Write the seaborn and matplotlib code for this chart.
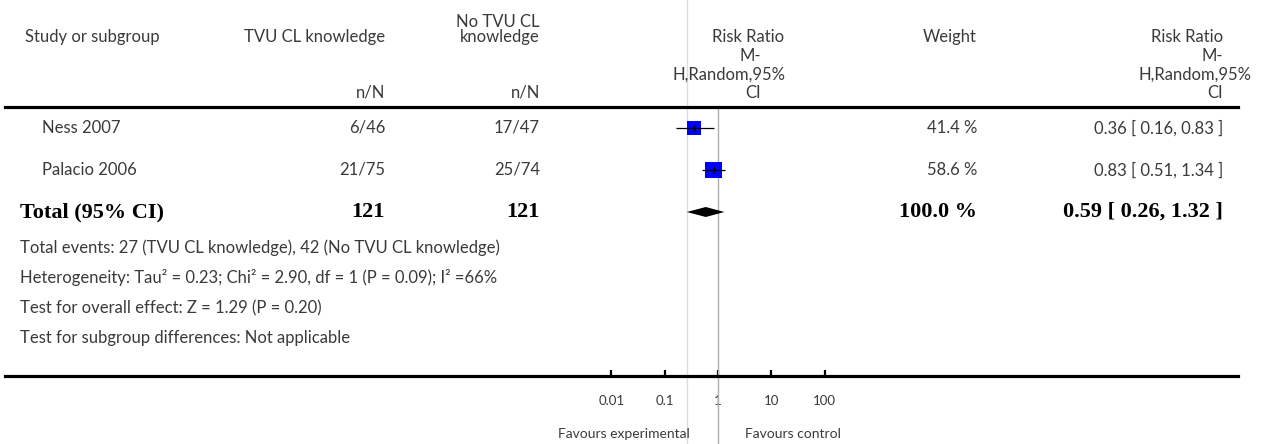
import numpy as np
import pandas as pd
import matplotlib
matplotlib.use("Agg")
import matplotlib.pyplot as plt
import matplotlib.transforms as mtransforms
import seaborn as sns

# ---------------- data ----------------
studies = ["Ness 2007", "Palacio 2006"]
exp_events = [6, 21]
exp_total = [46, 75]
ctl_events = [17, 25]
ctl_total = [47, 74]
rr = [0.36, 0.83]
rr_lo = [0.16, 0.51]
rr_hi = [0.83, 1.34]
weights = [41.4, 58.6]
pooled_rr = 0.59
pooled_lo = 0.26
pooled_hi = 1.32
total_exp = 121
total_ctl = 121
total_weight = 100.0
footer_lines = [
    "Total events: 27 (TVU CL knowledge), 42 (No TVU CL knowledge)",
    "Heterogeneity: Tau\u00b2 = 0.23; Chi\u00b2 = 2.90, df = 1 (P = 0.09); I\u00b2 =66%",
    "Test for overall effect: Z = 1.29 (P = 0.20)",
    "Test for subgroup differences: Not applicable",
]
tick_values = [0.01, 0.1, 1, 10, 100]
tick_labels = ["0.01", "0.1", "1", "10", "100"]
favours_left = "Favours experimental"
favours_right = "Favours control"

# ---------------- style ----------------
sns.set_theme(style="white")
plt.rcParams["font.family"] = ["Lato", "DejaVu Sans"]
REG = dict(family=["Lato", "DejaVu Sans"], fontweight="normal", color="#3a3a3a", fontsize=12)
BOLD = dict(family=["Liberation Serif", "DejaVu Serif"], fontweight="bold", color="black", fontsize=16)

W, H = 1264, 444
fig = plt.figure(figsize=(W / 100, H / 100), dpi=100)
fig.patch.set_facecolor("white")

AX_L, AX_R, AX_T, AX_B = 5, 1238, 107, 376
ax = fig.add_axes([AX_L / W, 1 - AX_B / H, (AX_R - AX_L) / W, (AX_B - AX_T) / H])
ax.set_facecolor("none")

X_ONE, PPD = 718.0, 53.33
ax.set_xscale("log")
ax.set_xlim(10 ** ((AX_L - X_ONE) / PPD), 10 ** ((AX_R - X_ONE) / PPD))
ROW_PX, FIRST_ROW = 42.0, 128.0
ax.set_ylim((AX_B - FIRST_ROW) / ROW_PX, (AX_T - FIRST_ROW) / ROW_PX)

for s in ["left", "right"]:
    ax.spines[s].set_visible(False)
for s in ["top", "bottom"]:
    ax.spines[s].set_visible(True)
    ax.spines[s].set_linewidth(2.3)
    ax.spines[s].set_color("black")

ax.set_yticks([])
ax.set_xticks(tick_values)
ax.set_xticklabels(tick_labels)
ax.xaxis.set_minor_locator(matplotlib.ticker.NullLocator())
ax.tick_params(axis="x", which="major", bottom=True, top=False, direction="in",
               length=4.5, width=1.6, color="black",
               pad=13.5, labelsize=9.5, labelcolor="#3a3a3a")

# vertical reference lines
axh = AX_B - AX_T
ax.axvline(pooled_lo, ymin=-(H - AX_B) / axh, ymax=1 + AX_T / axh,
           color="#dcdcdc", lw=1.0, clip_on=False, zorder=0)
ax.axvline(1, ymin=-(H - AX_B) / axh, ymax=1,
           color="#b0b0b0", lw=1.0, clip_on=False, zorder=1)

# study markers
rows = np.arange(len(studies))
side_pt = 2.15 * np.sqrt(np.array(weights)) * 0.72
df = pd.DataFrame({"rr": rr, "row": rows})
sns.scatterplot(data=df, x="rr", y="row", marker="s", s=side_pt ** 2,
                color="#0000ff", linewidth=0, ax=ax, legend=False, zorder=3)
ax.hlines(rows, rr_lo, rr_hi, color="black", lw=0.9, zorder=4)
ax.plot(rr, rows, ls="none", marker="|", ms=4, mew=0.9, color="black", zorder=5)
ax.set_xlabel("")
ax.set_ylabel("")

# pooled diamond
trow = len(studies)
dh = 5.0 / ROW_PX
ax.fill([pooled_lo, pooled_rr, pooled_hi, pooled_rr],
        [trow, trow - dh, trow, trow + dh], color="black", lw=0, zorder=3)

# ---------------- text ----------------
def ftext(xpx, ypx, s, ha="left", style=REG, **kw):
    d = dict(style)
    d.update(kw)
    fig.text(xpx / W, 1 - ypx / H, s, ha=ha, va="center", **d)

blend = mtransforms.blended_transform_factory(fig.transFigure, ax.transData)

def rtext(xpx, row, s, ha="left", style=REG):
    fig.text(xpx / W, row, s, ha=ha, va="center", transform=blend, **style)

C1, C2, CW, CE = 385, 540, 977, 1223

# header
ftext(25, 37, "Study or subgroup")
ftext(C1, 37, "TVU CL knowledge", ha="right")
ftext(C2, 22, "No TVU CL", ha="right")
ftext(C2, 37, "knowledge", ha="right")
ftext(C1, 93, "n/N", ha="right")
ftext(C2, 93, "n/N", ha="right")
ftext(748, 37, "Risk Ratio", ha="center")
ftext(750, 56, "M-", ha="center")
ftext(786, 75, "H,Random,95%", ha="right")
ftext(753, 93, "CI", ha="center")
ftext(CW, 37, "Weight", ha="right")
ftext(CE, 37, "Risk Ratio", ha="right")
ftext(CE, 56, "M-", ha="right")
ftext(1251, 75, "H,Random,95%", ha="right")
ftext(CE, 93, "CI", ha="right")

# study rows
for i, name in enumerate(studies):
    rtext(42, i, name)
    rtext(C1, i, f"{exp_events[i]}/{exp_total[i]}", ha="right")
    rtext(C2, i, f"{ctl_events[i]}/{ctl_total[i]}", ha="right")
    rtext(CW, i, f"{weights[i]:.1f} %", ha="right")
    rtext(CE, i, f"{rr[i]:.2f} [ {rr_lo[i]:.2f}, {rr_hi[i]:.2f} ]", ha="right")

# total row
rtext(20, trow, "Total (95% CI)", style=BOLD)
rtext(C1, trow, f"{total_exp}", ha="right", style=BOLD)
rtext(C2, trow, f"{total_ctl}", ha="right", style=BOLD)
rtext(CW, trow, f"{total_weight:.1f} %", ha="right", style=BOLD)
rtext(CE, trow, f"{pooled_rr:.2f} [ {pooled_lo:.2f}, {pooled_hi:.2f} ]", ha="right", style=BOLD)

# footer
for ypx, line in zip([248, 277, 308, 338], footer_lines):
    ftext(20, ypx, line)

# favours labels
ftext(690, 434, favours_left, ha="right", fontsize=10)
ftext(745, 434, favours_right, ha="left", fontsize=10)

fig.savefig("out.png", dpi=100, facecolor="white")
